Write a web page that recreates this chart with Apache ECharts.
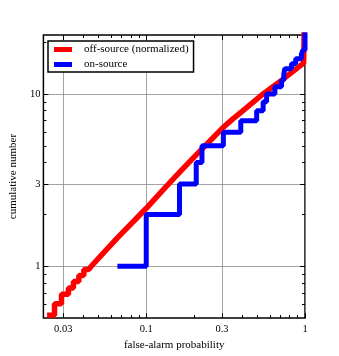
<!DOCTYPE html>
<html>
<head>
<meta charset="utf-8">
<script src="https://cdn.jsdelivr.net/npm/echarts@6/dist/echarts.min.js"></script>
<style>
html,body{margin:0;padding:0;background:#fff;}
#chart{width:339px;height:356px;}
</style>
</head>
<body>
<div id="chart"></div>
<script>
// values: [false-alarm probability, cumulative number]
var offSource = [
  [0.02373,0.5196],[0.02644,0.5196],[0.02644,0.6053],[0.02925,0.6053],
  [0.02925,0.6868],[0.03236,0.6868],[0.03236,0.7487],[0.03478,0.7487],
  [0.03478,0.8162],[0.03764,0.8162],[0.03764,0.8839],[0.04047,0.8839],
  [0.04047,0.9572],[0.0435,0.9572],[0.045,1.0],[0.0517,1.15],
  [0.0658,1.46],[0.0836,1.83],[0.1,2.17],[0.126,2.74],[0.164,3.55],
  [0.2,4.3],[0.25,5.3],[0.3,6.3],[0.35,7.15],[0.4,7.9],[0.545,10],
  [0.728,12.2],[0.98,15.1],[1,15.4],[1,40]
];
var onSource = [
  [0.0658,1],[0.1,2],[0.162,3],[0.2065,4],[0.2244,5],[0.306,6],
  [0.394,7],[0.496,8],[0.545,9],[0.573,10],[0.646,11],[0.711,12],
  [0.735,13],[0.746,14],[0.822,15],[0.874,16],[0.949,17],[0.97,18],[1,40]
];
var xTicks = [0.03,0.1,0.3,1];
var xTickLabels = ['0.03','0.1','0.3','1'];
var xMinor = [0.04,0.05,0.06,0.07,0.08,0.09,0.2,0.4,0.5,0.6,0.7,0.8,0.9];
var yTicks = [1,3,10];
var yTickLabels = ['1','3','10'];
var yMinor = [0.6,0.7,0.8,0.9,2,4,5,6,7,8,9,20];

var serif = 'Liberation Serif';

function pickLabel(ticks, labels){
  return function(v){
    for(var i=0;i<ticks.length;i++){
      if(Math.abs(v/ticks[i]-1) < 1e-3) return labels[i];
    }
    return '';
  };
}

// one helper for all the tick axes (major/minor, both sides)
function tickAxis(pos, min, max, values, len, extra){
  var a = {
    type:'log',
    position:pos,
    min:min,
    max:max,
    axisLine:{show:false},
    axisTick:{show:true, inside:true, length:len, customValues:values,
      lineStyle:{color:'#000', width:1}},
    axisLabel:{show:false},
    splitLine:{show:false}
  };
  for(var k in extra) a[k] = extra[k];
  return a;
}

var chart = echarts.init(document.getElementById('chart'));

var option = {
  animation:false,
  backgroundColor:'#fff',
  grid:{left:43, top:35, width:262, height:285, show:true,
    borderColor:'#000', borderWidth:1.5, backgroundColor:'transparent'},
  legend:{
    left:48, top:41, orient:'vertical',
    padding:[3,5,2,6], itemGap:4,
    itemWidth:18, itemHeight:5, icon:'rect',
    borderColor:'#000', borderWidth:1.5, borderRadius:0,
    backgroundColor:'#fff',
    textStyle:{fontFamily:serif, fontSize:11, color:'#000', padding:[0,0,0,7]},
    data:['off-source (normalized)','on-source']
  },
  xAxis:[
    tickAxis('bottom', 0.0225, 1, xTicks, 5, {
      name:'false-alarm probability', nameLocation:'middle', nameGap:19,
      nameTextStyle:{fontFamily:serif, fontSize:11, color:'#000'},
      axisLabel:{show:true, customValues:xTicks, margin:6,
        fontFamily:serif, fontSize:10.5, color:'#000',
        formatter:pickLabel(xTicks, xTickLabels)},
      splitLine:{show:true, customValues:xTicks,
        lineStyle:{color:'#8c8c8c', width:0.8}}
    }),
    tickAxis('bottom', 0.0225, 1, xMinor, 3),
    tickAxis('top', 0.0225, 1, xTicks, 5),
    tickAxis('top', 0.0225, 1, xMinor, 3)
  ],
  yAxis:[
    tickAxis('left', 0.5, 22, yTicks, 5, {
      name:'cumulative number', nameLocation:'middle', nameGap:21,
      nameTextStyle:{fontFamily:serif, fontSize:11, color:'#000'},
      axisLabel:{show:true, customValues:yTicks, margin:3,
        fontFamily:serif, fontSize:10.5, color:'#000',
        formatter:pickLabel(yTicks, yTickLabels)},
      splitLine:{show:true, customValues:yTicks,
        lineStyle:{color:'#8c8c8c', width:0.8}}
    }),
    tickAxis('left', 0.5, 22, yMinor, 3),
    tickAxis('right', 0.5, 22, yTicks, 5),
    tickAxis('right', 0.5, 22, yMinor, 3)
  ],
  series:[
    {
      name:'off-source (normalized)',
      type:'line',
      xAxisIndex:0, yAxisIndex:0,
      data:offSource,
      symbol:'none',
      color:'#ff0000',
      lineStyle:{color:'#ff0000', width:5.5}
    },
    {
      name:'on-source',
      type:'line',
      xAxisIndex:0, yAxisIndex:0,
      step:'end',
      data:onSource,
      symbol:'none',
      color:'#0000ff',
      lineStyle:{color:'#0000ff', width:5}
    }
  ]
};

chart.setOption(option);
</script>
</body>
</html>
